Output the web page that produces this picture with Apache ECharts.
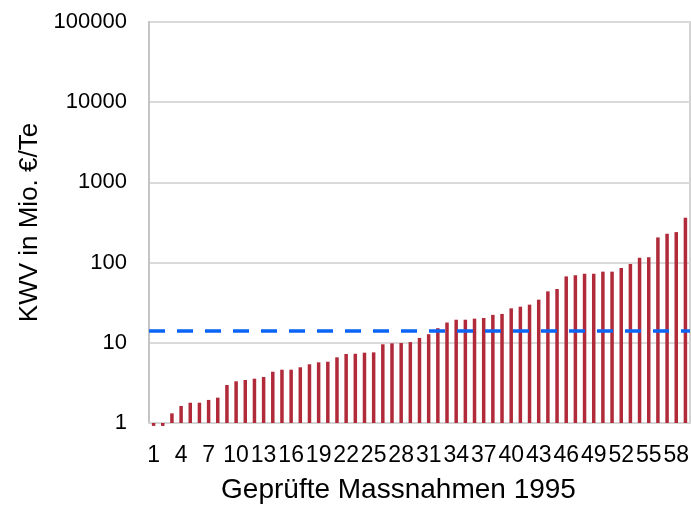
<!DOCTYPE html>
<html>
<head>
<meta charset="utf-8">
<script src="https://cdn.jsdelivr.net/npm/echarts@6/dist/echarts.min.js"></script>
<style>html,body{margin:0;padding:0;background:#fff}#c{width:691px;height:507px}</style>
</head>
<body>
<div id="c"></div>
<script>
var categories = [];
for (var i = 1; i <= 59; i++) categories.push(String(i));
var kwvValues = [0.92, 0.92, 1.32, 1.63, 1.79, 1.79, 1.94, 2.07, 2.98, 3.31,
  3.44, 3.57, 3.75, 4.36, 4.62, 4.62, 4.95, 5.4, 5.71, 5.81,
  6.59, 7.25, 7.3, 7.53, 7.6, 9.58, 9.85, 9.94, 10.2, 11.5,
  12.8, 15.2, 17.9, 19.4, 19.4, 20.0, 20.4, 22.3, 22.9, 26.9,
  28.2, 29.9, 34.5, 43.8, 46.9, 67.3, 69.3, 72.7, 72.7, 77.1,
  77.1, 85.7, 96.1, 115, 117, 206, 229, 240, 362];
var thresholdValue = 14;
var yTicks = [1, 10, 100, 1000, 10000, 100000];

var chart = echarts.init(document.getElementById('c'), null, {renderer: 'canvas'});
chart.setOption({
  animation: false,
  backgroundColor: '#fff',
  textStyle: {fontFamily: 'Liberation Sans, Arial, sans-serif'},
  grid: {left: 149, right: 1, top: 22, bottom: 84, show: true, borderColor: '#c4c4c4', borderWidth: 1.5, containLabel: false, outerBoundsMode: 'none'},
  xAxis: {
    type: 'category',
    data: categories,
    name: 'Geprüfte Massnahmen 1995',
    nameLocation: 'middle',
    nameGap: 53,
    nameTextStyle: {fontSize: 28, color: '#000', padding: [0, 42, 0, 0]},
    axisLine: {show: true, lineStyle: {color: '#d4d4d4', width: 2}},
    axisTick: {show: false},
    axisLabel: {interval: 2, fontSize: 23, color: '#000', margin: 21}
  },
  yAxis: {
    type: 'log',
    logBase: 10,
    min: yTicks[0],
    max: yTicks[yTicks.length - 1],
    name: 'KWV in Mio. €/Te',
    nameLocation: 'middle',
    nameGap: 106,
    nameTextStyle: {fontSize: 26, color: '#000'},
    axisLine: {show: true, lineStyle: {color: '#c4c4c4', width: 2}},
    axisTick: {show: false},
    axisLabel: {fontSize: 22, color: '#000', margin: 22, formatter: function (v) { return String(Math.round(v)); }},
    splitLine: {show: true, lineStyle: {color: '#dadada', width: 2}}
  },
  series: [{
    type: 'bar',
    data: kwvValues,
    barWidth: 3.5,
    clip: false,
    itemStyle: {color: '#b02a3a'},
    markLine: {
      silent: true,
      symbol: 'none',
      label: {show: false},
      lineStyle: {color: '#0a64f5', width: 3.5, type: [16, 12]},
      data: [{yAxis: thresholdValue}]
    }
  }]
});
</script>
</body>
</html>
